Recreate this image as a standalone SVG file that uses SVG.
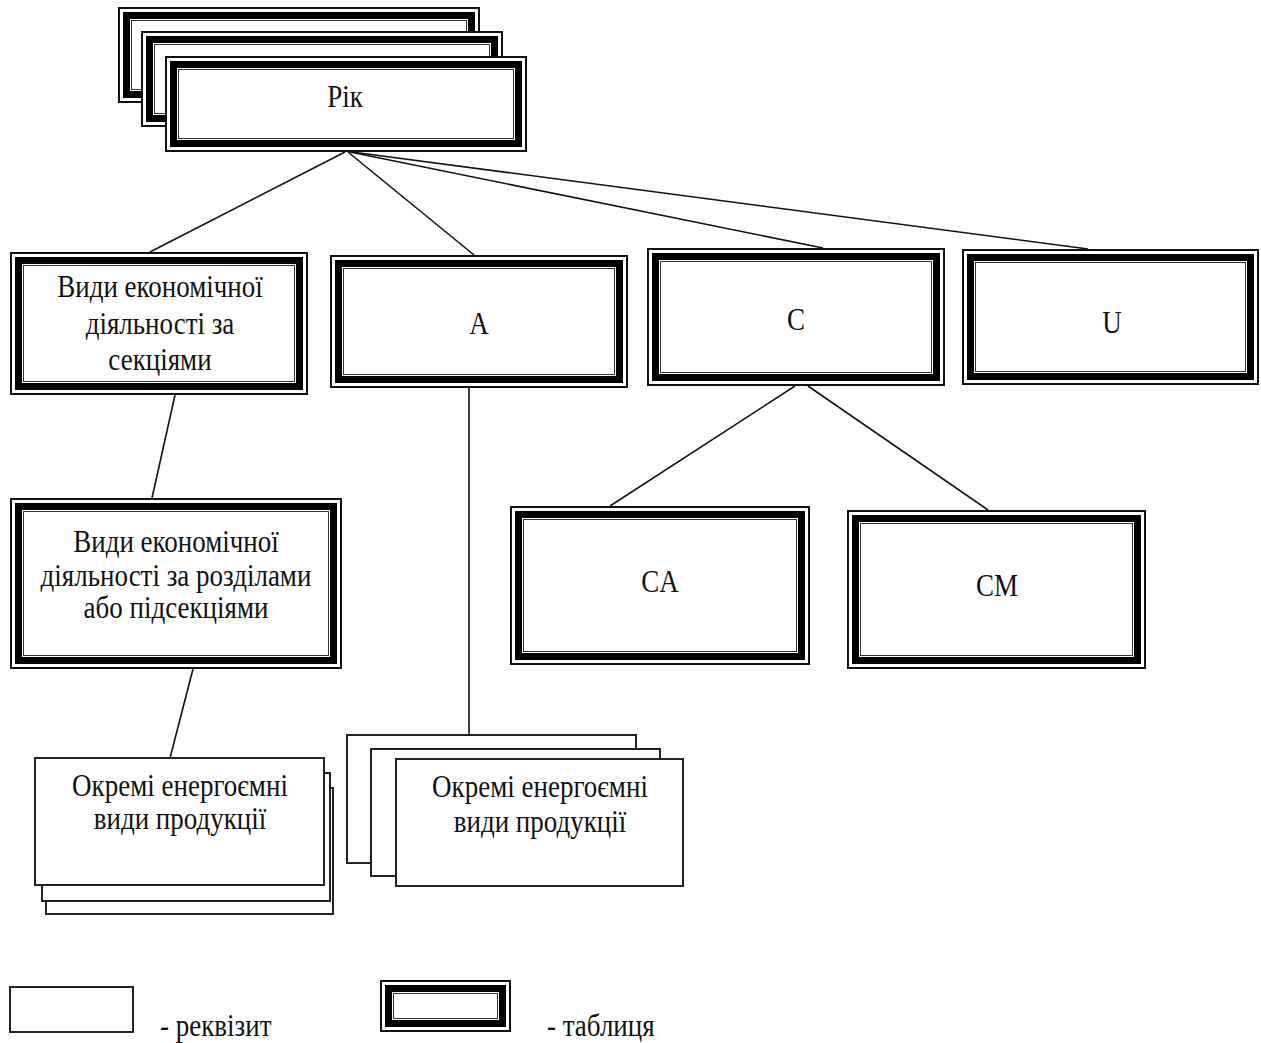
<svg xmlns="http://www.w3.org/2000/svg" width="1261" height="1043" viewBox="0 0 1261 1043">
<style>
.bg{fill:#fff}
.t1{fill:#fff;stroke:#111;stroke-width:2}
.t2{fill:none;stroke:#000;stroke-width:7}
.t3{fill:none;stroke:#333;stroke-width:1}
.rq{fill:#fff;stroke:#222;stroke-width:2}
.ln{stroke:#111;stroke-width:1.6;fill:none}
text{font-family:"Liberation Serif","Times New Roman",serif;font-size:27px;fill:#111;text-anchor:middle}
.lg{text-anchor:start}
</style>
<rect class="bg" x="0" y="0" width="1261" height="1043"/>
<g id="connectors">
<line class="ln" x1="345" y1="152" x2="150" y2="252"/>
<line class="ln" x1="348" y1="152" x2="474" y2="255"/>
<line class="ln" x1="350" y1="152" x2="823" y2="248"/>
<line class="ln" x1="352" y1="152" x2="1088" y2="249"/>
<line class="ln" x1="175" y1="395" x2="152" y2="498"/>
<line class="ln" x1="193" y1="669" x2="170" y2="758"/>
<line class="ln" x1="469" y1="388" x2="469" y2="735"/>
<line class="ln" x1="795" y1="386" x2="610" y2="506"/>
<line class="ln" x1="808" y1="386" x2="988" y2="510"/>
</g>
<g id="rik">
<rect class="t1" x="119" y="8" width="360" height="94"/><rect class="t2" x="126.5" y="15.5" width="345" height="79"/><rect class="t3" x="131.5" y="20.5" width="335" height="69"/>
<rect class="t1" x="142" y="32" width="360" height="94"/><rect class="t2" x="149.5" y="39.5" width="345" height="79"/><rect class="t3" x="154.5" y="44.5" width="335" height="69"/>
<rect class="t1" x="166" y="57" width="360" height="94"/><rect class="t2" x="173.5" y="64.5" width="345" height="79"/><rect class="t3" x="178.5" y="69.5" width="335" height="69"/>
<text transform="translate(345,107) scale(1,1.18)">Рік</text>
</g>
<g id="sektsii">
<rect class="t1" x="11" y="253" width="296" height="141"/><rect class="t2" x="18.5" y="260.5" width="281" height="126"/><rect class="t3" x="23.5" y="265.5" width="271" height="116"/>
<text transform="translate(160,297) scale(1,1.18)"><tspan x="0" y="0">Види економічної</tspan><tspan x="0" y="31">діяльності за</tspan><tspan x="0" y="62">секціями</tspan></text>
</g>
<g id="A">
<rect class="t1" x="331" y="256" width="296" height="131"/><rect class="t2" x="338.5" y="263.5" width="281" height="116"/><rect class="t3" x="343.5" y="268.5" width="271" height="106"/>
<text transform="translate(479,334) scale(1,1.18)">A</text>
</g>
<g id="C">
<rect class="t1" x="648" y="249" width="296" height="136"/><rect class="t2" x="655.5" y="256.5" width="281" height="121"/><rect class="t3" x="660.5" y="261.5" width="271" height="111"/>
<text transform="translate(796,330) scale(1,1.18)">C</text>
</g>
<g id="U">
<rect class="t1" x="963" y="250" width="295" height="134"/><rect class="t2" x="970.5" y="257.5" width="280" height="119"/><rect class="t3" x="975.5" y="262.5" width="270" height="109"/>
<text transform="translate(1112,333) scale(1,1.18)">U</text>
</g>
<g id="rozdily">
<rect class="t1" x="11" y="499" width="330" height="169"/><rect class="t2" x="18.5" y="506.5" width="315" height="154"/><rect class="t3" x="23.5" y="511.5" width="305" height="144"/>
<text transform="translate(176,552) scale(1,1.18)"><tspan x="0" y="0">Види економічної</tspan><tspan x="0" y="28.5">діяльності за розділами</tspan><tspan x="0" y="56">або підсекціями</tspan></text>
</g>
<g id="CA">
<rect class="t1" x="511" y="507" width="298" height="157"/><rect class="t2" x="518.5" y="514.5" width="283" height="142"/><rect class="t3" x="523.5" y="519.5" width="273" height="132"/>
<text transform="translate(660,592) scale(1,1.18)">CA</text>
</g>
<g id="CM">
<rect class="t1" x="848" y="511" width="297" height="157"/><rect class="t2" x="855.5" y="518.5" width="282" height="142"/><rect class="t3" x="860.5" y="523.5" width="272" height="132"/>
<text transform="translate(997,596) scale(1,1.18)">CM</text>
</g>
<g id="okremi-left">
<rect class="rq" x="46" y="788" width="287" height="126"/>
<rect class="rq" x="42" y="773" width="288" height="128"/>
<rect class="rq" x="35" y="758" width="289" height="127"/>
<text transform="translate(180,796) scale(1,1.18)"><tspan x="0" y="0">Окремі енергоємні</tspan><tspan x="0" y="28">види продукції</tspan></text>
</g>
<g id="okremi-mid">
<rect class="rq" x="347" y="735" width="289" height="128"/>
<rect class="rq" x="371" y="749" width="289" height="127"/>
<rect class="rq" x="396" y="759" width="287" height="127"/>
<text transform="translate(540,797) scale(1,1.18)"><tspan x="0" y="0">Окремі енергоємні</tspan><tspan x="0" y="29.5">види продукції</tspan></text>
</g>
<g id="legend">
<rect class="rq" x="10" y="987" width="123" height="45"/>
<text class="lg" transform="translate(160,1036) scale(1,1.18)">- реквізит</text>
<rect class="t1" x="381" y="981" width="129" height="50"/><rect class="t2" x="388.5" y="988.5" width="114" height="35"/><rect class="t3" x="393.5" y="993.5" width="104" height="25"/>
<text class="lg" transform="translate(547,1036) scale(1,1.18)">- таблиця</text>
</g>
</svg>
